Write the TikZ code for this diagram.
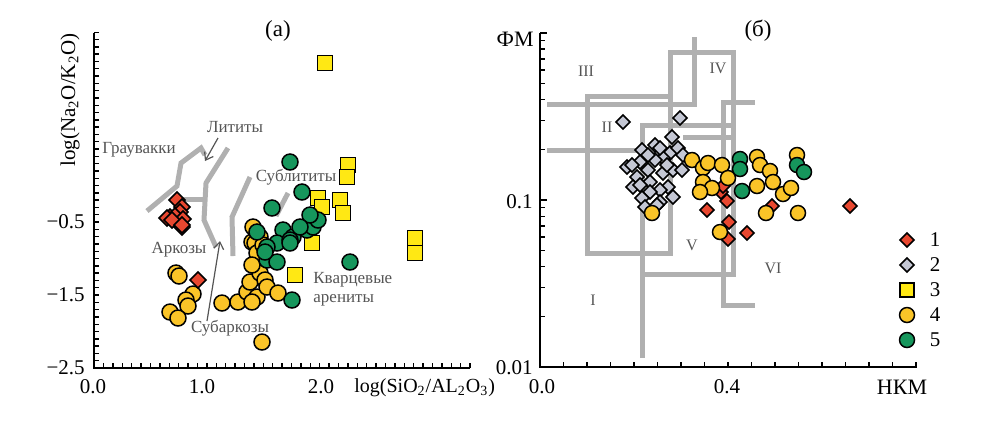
\documentclass[tikz,border=0pt]{standalone}
\usepackage{fontspec}
\setmainfont{Liberation Serif}
\usetikzlibrary{shapes.geometric,arrows.meta}
\definecolor{redm}{RGB}{232,72,48}
\definecolor{greym}{RGB}{196,199,212}
\definecolor{yelsq}{RGB}{255,232,20}
\definecolor{yelci}{RGB}{250,196,40}
\definecolor{grnm}{RGB}{22,150,92}
\definecolor{fieldline}{RGB}{176,176,176}
\definecolor{labelgray}{RGB}{85,85,85}
\begin{document}
\begin{tikzpicture}[x=0.5pt,y=-0.5pt,
  field/.style={draw=fieldline,line width=2.5pt,line join=miter},
  axisline/.style={draw=black,line width=1pt},
  tick/.style={draw=black,line width=0.7pt},
  mk/.style={draw=black,line width=0.75pt,inner sep=0pt,outer sep=0pt},
  rdA/.style={mk,diamond,fill=redm,minimum width=8pt,minimum height=8pt},
  ciA/.style={mk,circle,fill=yelci,minimum size=8pt},
  grA/.style={mk,circle,fill=grnm,minimum size=8pt},
  sqA/.style={mk,rectangle,fill=yelsq,minimum size=7.5pt},
  rdB/.style={mk,diamond,fill=redm,minimum width=7pt,minimum height=7pt},
  gdB/.style={mk,diamond,fill=greym,minimum width=7pt,minimum height=7pt},
  ciB/.style={mk,circle,fill=yelci,minimum size=7.5pt},
  grB/.style={mk,circle,fill=grnm,minimum size=7.5pt},
  regtxt/.style={text=labelgray,font=\fontsize{8.5}{10}\selectfont,inner sep=0pt},
  romtxt/.style={text=labelgray,font=\fontsize{8}{10}\selectfont,inner sep=0pt},
  numtxt/.style={font=\fontsize{10.5}{12}\selectfont,inner sep=0pt},
  axtxt/.style={font=\fontsize{10.5}{12}\selectfont,inner sep=0pt},
  tittxt/.style={font=\fontsize{11.5}{13}\selectfont,inner sep=0pt},
  pointer/.style={draw=labelgray,line width=0.6pt,-{Straight Barb[length=3.5pt,width=5pt]}}
]
\useasboundingbox (0,0) rectangle (989,420);

%%%%%%%%%%%%%%%% Panel (a)
\draw[axisline] (94,33) -- (94,368) -- (470,368);
\foreach \i in {1,...,46} \draw[tick] (94,{368-7.3*\i}) -- ++(5,0);
\foreach \i in {1,...,40} \draw[tick] ({94+9.4*\i},368) -- ++(0,-5);

\node[numtxt,anchor=east] (ya1) at (85,222) {−0.5};
\node[numtxt,anchor=east] (ya2) at (85,295) {−1.5};
\node[numtxt,anchor=east] (ya3) at (85,368) {−2.5};
\node[numtxt] (xa0) at (93,387) {0.0};
\node[numtxt] (xa1) at (202,387) {1.0};
\node[numtxt] (xa2) at (321,387) {2.0};
\node[axtxt,rotate=90] (ylabA) at (70,100) {log(Na\textsubscript{2}O/K\textsubscript{2}O)};
\node[axtxt,anchor=west,font=\fontsize{10}{12}\selectfont] (xlabA) at (354,388) {log(SiO\textsubscript{2}/AL\textsubscript{2}O\textsubscript{3})};
\node[tittxt] (titA) at (278,31) {(а)};

% field boundaries
\draw[field] (147,211) -- (177,186) -- (181,163) -- (201,148) -- (205,155);
\draw[field] (178,199) -- (204,199);
\draw[field] (228,148) -- (206,183) -- (204,220) -- (216,247);
\draw[field] (250,177) -- (232,217) -- (233,256);
\draw[field] (288,193) -- (276,216);

% labels
\node[regtxt] (lGr) at (139,150) {Граувакки};
\node[regtxt] (lLi) at (235,127) {Лититы};
\node[regtxt] (lSl) at (296,177) {Сублититы};
\node[regtxt] (lAr) at (179,250) {Аркозы};
\node[regtxt] (lSa) at (230,328) {Субаркозы};
\node[regtxt,anchor=west] (lKv) at (313,280) {Кварцевые};
\node[regtxt,anchor=west] (lAn) at (313,300) {арениты};
\coordinate (liS) at (218,138);
\coordinate (liE) at (205,161);
\coordinate (saS) at (207,321);
\coordinate (saE) at (220,241);
\draw[pointer] (liS) -- (liE);
\draw[pointer] (saS) -- (saE);

% data (a)
\foreach \p [count=\i] in {(176,273),(179,276),(193,294),(186,300),(188,306),(170,312),(178,318),
  (222,303),(238,302),(247,292),(257,297),(252,302),(250,282),(260,273),(265,280),(267,287),(278,293),
  (262,342),(253,227),(260,237),(252,242),(255,243),(257,253),(263,245),(252,265)}
  \node[ciA] (ay\i) at \p {};
\foreach \p [count=\i] in {(325,63),(348,165),(347,177),(318,198),(340,200),(343,213),(322,207),
  (312,243),(295,275),(415,238),(415,253)}
  \node[sqA] (as\i) at \p {};
\foreach \p [count=\i] in {(290,162),(302,192),(272,208),(257,232),(283,230),(293,237),(307,230),
  (313,227),(318,220),(310,215),(300,227),(277,243),(290,240),(267,247),(267,260),(277,262),
  (290,243),(350,262),(292,300),(265,252)}
  \node[grA] (ag\i) at \p {};
\foreach \p [count=\i] in {(177,200),(182,207),(180,212),(170,217),(175,216),(183,219),(182,227),
  (167,218),(172,220),(182,225),(198,280)}
  \node[rdA] (ar\i) at \p {};

%%%%%%%%%%%%%%%% Panel (b)
\draw[field] (547,104) -- (694,104) -- (694,37);
\draw[field] (547,150) -- (642,150);
\draw[field] (587,96) rectangle (670,253);
\draw[field] (670,96) -- (670,52) -- (733,52) -- (733,274) -- (642,274);
\draw[field] (642,358) -- (642,125) -- (732,125);
\draw[field] (683,137) -- (732,137);
\draw[field] (755,102) -- (723,102) -- (723,305) -- (755,305);

\draw[axisline] (540,33) -- (540,367) -- (917,367);
\foreach \d in {0,167} \foreach \k in {2,...,9}
  \draw[tick] (540,{367-\d-167*log10(\k)}) -- ++(5,0);
\draw[tick] (540,200) -- ++(7,0);
\draw[tick] (540,33) -- ++(7,0);
\foreach \i in {1,...,16} \draw[tick] ({540+23.5*\i},367) -- ++(0,-5);

\node[numtxt,anchor=east] (yb1) at (533,202) {0.1};
\node[numtxt,anchor=east] (yb2) at (533,368) {0.01};
\node[numtxt] (xb0) at (542,387) {0.0};
\node[numtxt] (xb1) at (727,387) {0.4};
\node[axtxt,anchor=east,font=\fontsize{11}{13}\selectfont] (ylabB) at (534,39) {ФМ};
\node[axtxt,font=\fontsize{11}{13}\selectfont] (xlabB) at (902,387) {НКМ};
\node[tittxt] (titB) at (758,31) {(б)};

\node[romtxt] (rI) at (593,300) {I};
\node[romtxt] (rII) at (607,127) {II};
\node[romtxt] (rIII) at (586,71) {III};
\node[romtxt] (rIV) at (718,68) {IV};
\node[romtxt] (rV) at (692,245) {V};
\node[romtxt] (rVI) at (773,268) {VI};

% data (b)
\foreach \p [count=\i] in {(623,122),(680,118),(672,137),(655,145),(642,150),(670,153),(678,148),
  (683,155),(663,158),(640,162),(627,167),(648,170),(663,173),(673,170),(637,177),(650,182),
  (633,187),(668,187),(660,190),(650,192),(642,198),(673,197),(660,202),(645,207),(657,205),
  (682,170),(632,165),(655,160),(648,155),(660,148),(667,165),(640,185)}
  \node[gdB] (bd\i) at \p {};
\foreach \p [count=\i] in {(707,210),(727,201),(721,192),(729,222),(728,239),(747,233),(772,206),
  (723,186),(850,206)}
  \node[rdB] (br\i) at \p {};
\foreach \p [count=\i] in {(652,213),(692,160),(703,168),(708,163),(722,165),(728,178),(703,182),
  (712,188),(700,192),(757,157),(760,165),(770,171),(757,186),(773,182),(783,194),(791,188),
  (797,155),(766,213),(798,213),(720,232)}
  \node[ciB] (bc\i) at \p {};
\foreach \p [count=\i] in {(740,159),(740,169),(742,191),(797,165),(804,172)}
  \node[grB] (bg\i) at \p {};

% legend
\node[rdB] (lg1) at (907,240) {};
\node[gdB] (lg2) at (907,265) {};
\node[sqA,minimum size=7pt] (lg3) at (907,290) {};
\node[ciB] (lg4) at (907,315) {};
\node[grB] (lg5) at (907,340) {};
\node[numtxt] (lt1) at (935,240) {1};
\node[numtxt] (lt2) at (935,265) {2};
\node[numtxt] (lt3) at (935,290) {3};
\node[numtxt] (lt4) at (935,315) {4};
\node[numtxt] (lt5) at (935,340) {5};
\end{tikzpicture}
\end{document}
